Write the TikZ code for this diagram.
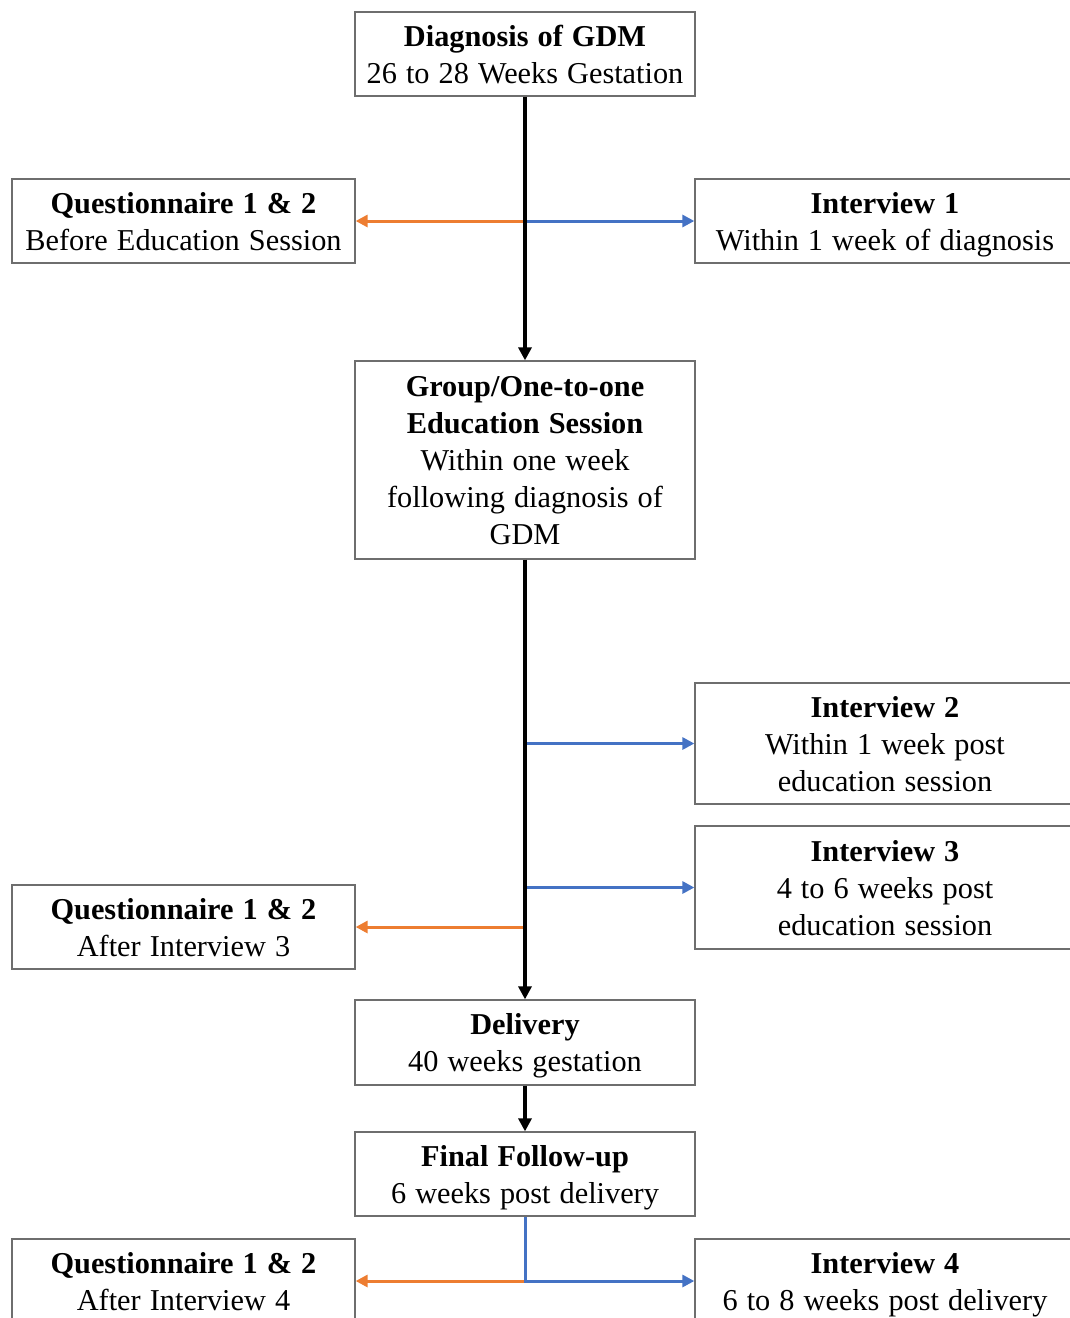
\documentclass[tikz,border=0pt]{standalone}
\usepackage{fontspec}
\setmainfont{Liberation Serif}[WordSpace=1.2]
\usetikzlibrary{arrows.meta}
\definecolor{boxgray}{HTML}{6E6E6E}
\definecolor{qorange}{HTML}{ED7D31}
\definecolor{iblue}{HTML}{4472C4}
% struts fixing the height of the first line and the depth of the last one
\newcommand{\topstrut}{\rule{0pt}{29pt}}
\newcommand{\botstrut}{\rule[-8pt]{0pt}{8pt}}
\begin{document}
\begin{tikzpicture}[x=1pt,y=-1pt,
  stage/.style={draw=boxgray,line width=1.3pt,fill=white,align=center,
    inner sep=0pt,font=\fontsize{30.3}{37}\selectfont},
  midbox/.style={stage,minimum width=340pt},
  leftbox/.style={stage,minimum width=343pt,minimum height=84pt},
  rightbox/.style={stage,minimum width=380pt},
  spine/.style={line width=3.2pt,black,-{Triangle[length=13pt,width=13pt]}},
  toq/.style={line width=3pt,qorange,-{Triangle[length=12pt,width=12pt]}},
  toint/.style={line width=3pt,iblue,-{Triangle[length=12pt,width=12pt]}}]
\useasboundingbox (0,0) rectangle (1070,1318);

% main timeline
\node[midbox,minimum height=84pt]  (diag)  at (525,54)    {\topstrut\textbf{Diagnosis of GDM}\\26 to 28 Weeks Gestation\botstrut};
\node[midbox,minimum height=198pt] (edu)   at (525,460)   {\topstrut\textbf{Group/One-to-one}\\\textbf{Education Session}\\Within one week\\following diagnosis of\\GDM\botstrut};
\node[midbox,minimum height=85pt]  (deliv) at (525,1042.5){\topstrut\textbf{Delivery}\\40 weeks gestation\botstrut};
\node[midbox,minimum height=84pt]  (final) at (525,1174)  {\topstrut\textbf{Final Follow-up}\\6 weeks post delivery\botstrut};

% questionnaires
\node[leftbox] (q1) at (183.5,221)  {\topstrut\textbf{Questionnaire 1 \& 2}\\Before Education Session\botstrut};
\node[leftbox] (q2) at (183.5,927)  {\topstrut\textbf{Questionnaire 1 \& 2}\\After Interview 3\botstrut};
\node[leftbox] (q3) at (183.5,1281) {\topstrut\textbf{Questionnaire 1 \& 2}\\After Interview 4\botstrut};

% interviews
\node[rightbox,minimum height=84pt]  (i1) at (885,221)   {\topstrut\textbf{Interview 1}\\Within 1 week of diagnosis\botstrut};
\node[rightbox,minimum height=121pt] (i2) at (885,743.5) {\topstrut\textbf{Interview 2}\\Within 1 week post\\education session\botstrut};
\node[rightbox,minimum height=123pt] (i3) at (885,887.5) {\topstrut\textbf{Interview 3}\\4 to 6 weeks post\\education session\botstrut};
\node[rightbox,minimum height=84pt]  (i4) at (885,1281)  {\topstrut\textbf{Interview 4}\\6 to 8 weeks post delivery\botstrut};

% orange branches to the questionnaires
\draw[toq] ([xshift=-1pt]diag.south) |- (q1.east);
\draw[toq] ([xshift=-1pt]edu.south) |- (q2.east);
\draw[toq] (final.south) |- (q3.east);

% blue branches to the interviews
\draw[toint] (i1.west -| diag.south) -- (i1.west);
\draw[toint] (i2.west -| edu.south) -- (i2.west);
\draw[toint] (i3.west -| edu.south) -- (i3.west);
\draw[toint] (final.south) |- (i4.west);

% black spine
\draw[spine] (diag.south) -- (edu.north);
\draw[spine] (edu.south) -- (deliv.north);
\draw[spine] (deliv.south) -- (final.north);
\end{tikzpicture}
\end{document}
